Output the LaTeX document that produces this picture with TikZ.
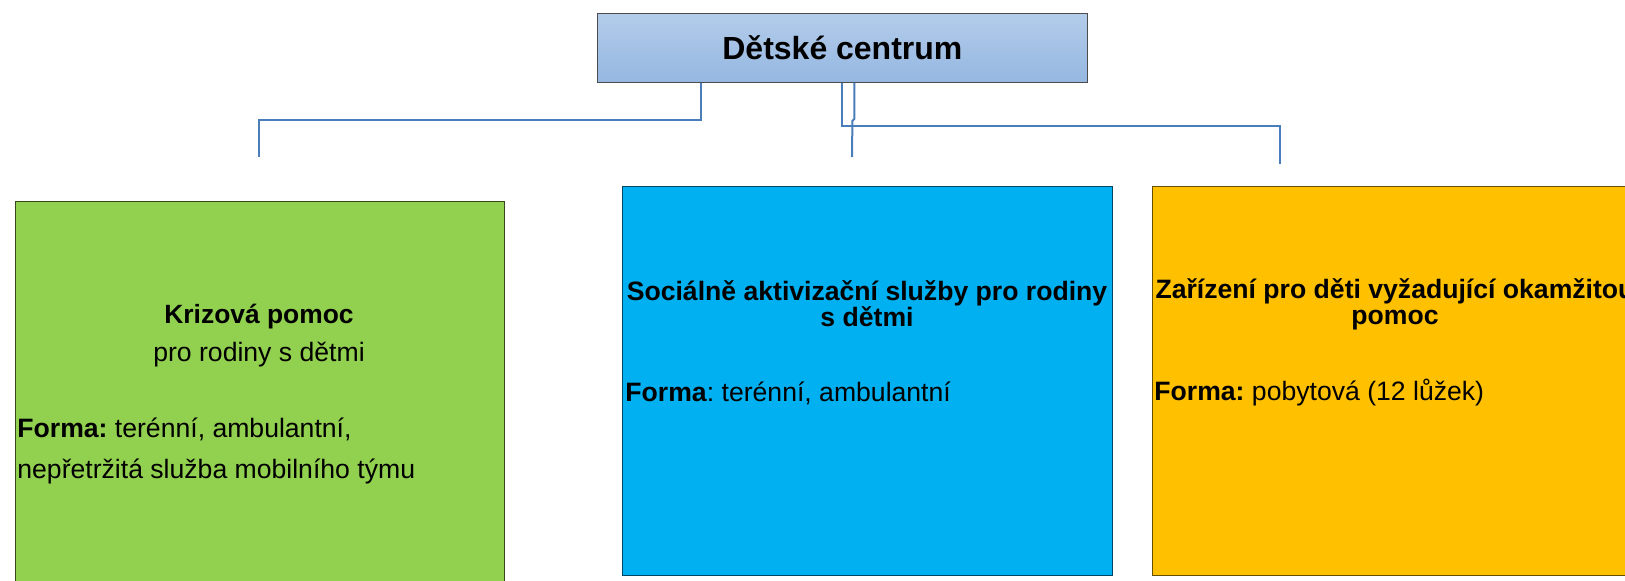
\documentclass[tikz,border=0pt]{standalone}
\usepackage{fontspec}
\setmainfont{Liberation Sans}
\frenchspacing
\definecolor{linkblue}{HTML}{4A7EBB}
\definecolor{headtop}{HTML}{B3CCEA}
\definecolor{headbot}{HTML}{95B7E1}
\definecolor{krizegreen}{HTML}{92D050}
\definecolor{socblue}{HTML}{00B0F0}
\definecolor{zarorange}{HTML}{FFC000}
\newcommand{\titlefont}{\bfseries\fontsize{16}{18}\selectfont}
\newcommand{\headfont}{\bfseries\fontsize{13.3}{13}\selectfont}
\newcommand{\bodyfont}{\fontsize{13.3}{20.5}\selectfont}

\begin{document}
\begin{tikzpicture}[x=0.5pt,y=-0.5pt,
    box/.style={draw, rectangle, inner sep=0pt, anchor=north west},
    link/.style={draw=linkblue, line width=1pt}]
    	\clip (0,0) rectangle (1625,580);
    	% boxes
		\node [box, draw=black!70, top color=headtop, bottom color=headbot,
		       minimum width=245pt, minimum height=34.5pt,
		       font=\titlefont] (centrum) at (597,13) {Dětské centrum};
		\node [box, draw=krizegreen!35!black, fill=krizegreen,
		       minimum width=244.5pt, minimum height=199.5pt] (krize) at (15,201) {};
		\node [box, draw=socblue!40!black, fill=socblue,
		       minimum width=245pt, minimum height=194.5pt] (soc) at (622,186) {};
		\node [box, draw=zarorange!40!black, fill=zarorange,
		       minimum width=243pt, minimum height=194.5pt] (zar) at (1152,186) {};
    	% connectors
		\coordinate (kend) at (259,157);
		\coordinate (send) at (852,157);
		\coordinate (zend) at (1280,164);
		\draw [link] ([xshift=-70.5pt]centrum.south) -- ++(0,37) -| (kend);
		\draw [link] (centrum.south) -- ++(0,43) -| (zend);
		\draw [link] ([xshift=6pt]centrum.south) -- ++(0,36) -- ++(-2,2) -- (send);
    	% texts
		\node [font=\bfseries\fontsize{13.2}{15}\selectfont] (krizetit) at (259,317) {Krizová pomoc};
		\node [font=\bodyfont] (krizesub) at (259,355) {pro rodiny s dětmi};
		\node [font=\bodyfont, align=left, anchor=west, inner sep=0pt] (krizeforma) at (17,451)
		      {\textbf{Forma:} terénní, ambulantní,\\nepřetržitá služba mobilního týmu};
		\node [font=\headfont, align=center] (soctit) at (867,304) {Sociálně aktivizační služby pro rodiny\\s dětmi};
		\node [font=\bodyfont, anchor=west, inner sep=0pt] (socforma) at (625,393) {\textbf{Forma}: terénní, ambulantní};
		\node [font=\headfont, align=center] (zartit) at (1395,304) {Zařízení pro děti vyžadující okamžitou\\pomoc};
		\node [font=\bodyfont, anchor=west, inner sep=0pt] (zarforma) at (1154,393) {\textbf{Forma:} pobytová (12 lůžek)};
    \end{tikzpicture}
\end{document}
